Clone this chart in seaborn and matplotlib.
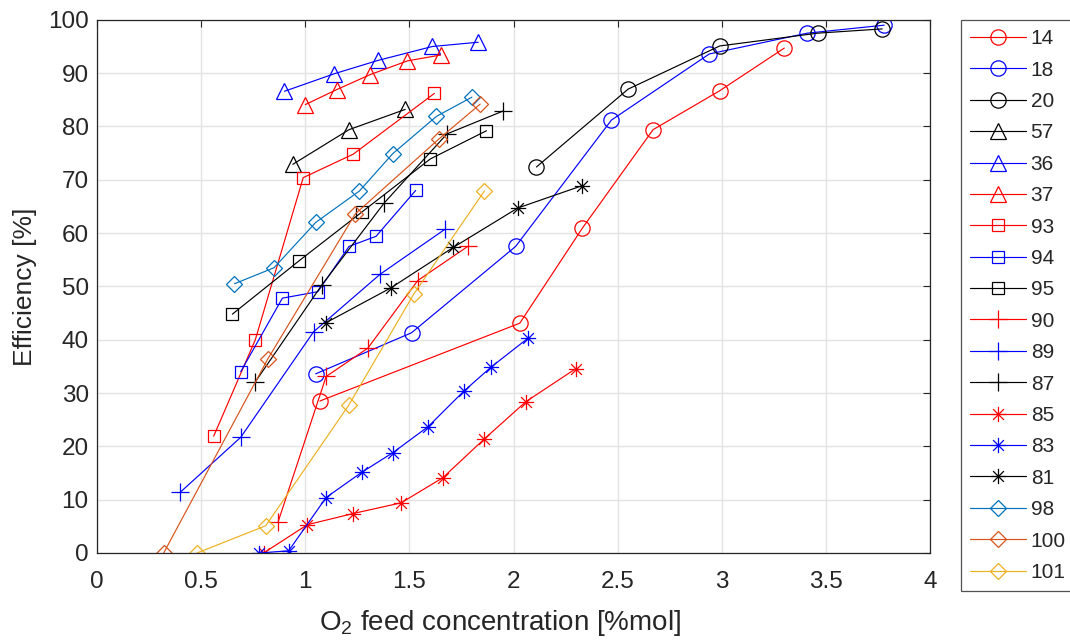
import numpy as np
import pandas as pd
import matplotlib
matplotlib.use('Agg')
import matplotlib.pyplot as plt
from matplotlib.path import Path
import seaborn as sns

# Data (x: O2 feed %mol, y: efficiency %)
x14 = [1.07, 2.03, 2.33, 2.67, 2.99, 3.30]
y14 = [28.5, 43.1, 60.9, 79.4, 86.7, 94.7]
x18 = [1.05, 1.51, 2.01, 2.47, 2.94, 3.41, 3.78]
y18 = [33.6, 41.3, 57.5, 81.2, 93.6, 97.5, 99.0]
x20 = [2.11, 2.55, 2.99, 3.46, 3.77]
y20 = [72.4, 87.0, 95.1, 97.5, 98.3]
x57 = [0.94, 1.21, 1.48]
y57 = [72.9, 79.4, 83.2]
x36 = [0.90, 1.14, 1.35, 1.61, 1.83]
y36 = [86.6, 89.9, 92.4, 95.0, 95.8]
x37 = [1.00, 1.15, 1.31, 1.49, 1.65]
y37 = [84.1, 86.9, 89.7, 92.3, 93.4]
x93 = [0.56, 0.76, 0.99, 1.23, 1.62]
y93 = [21.9, 40.0, 70.4, 74.8, 86.2]
x94 = [0.69, 0.89, 1.06, 1.21, 1.34, 1.53]
y94 = [34.0, 47.8, 49.0, 57.5, 59.4, 68.0]
x95 = [0.65, 0.97, 1.27, 1.60, 1.87]
y95 = [44.8, 54.8, 63.9, 73.9, 79.2]
x90 = [0.87, 1.10, 1.30, 1.54, 1.78]
y90 = [5.9, 33.1, 38.4, 51.1, 57.5]
x89 = [0.40, 0.69, 1.04, 1.36, 1.67]
y89 = [11.4, 21.7, 41.5, 52.3, 60.7]
x87 = [0.76, 1.08, 1.38, 1.68, 1.95]
y87 = [32.1, 50.3, 65.7, 78.6, 82.9]
x85 = [0.80, 1.01, 1.23, 1.46, 1.66, 1.86, 2.06, 2.30]
y85 = [0.0, 5.3, 7.4, 9.4, 14.1, 21.4, 28.4, 34.6]
x83 = [0.78, 0.92, 1.10, 1.27, 1.42, 1.59, 1.76, 1.89, 2.07]
y83 = [0.0, 0.4, 10.4, 15.1, 18.8, 23.7, 30.3, 34.8, 40.3]
x81 = [1.10, 1.41, 1.71, 2.02, 2.33]
y81 = [43.2, 49.7, 57.3, 64.7, 68.9]
x98 = [0.66, 0.85, 1.05, 1.26, 1.42, 1.63, 1.80]
y98 = [50.5, 53.5, 62.0, 67.9, 74.9, 81.9, 85.5]
x100 = [0.32, 0.82, 1.24, 1.64, 1.84]
y100 = [0.0, 36.4, 63.6, 77.6, 84.2]
x101 = [0.48, 0.81, 1.21, 1.52, 1.86]
y101 = [0.0, 5.1, 27.8, 48.5, 67.9]

labels = ['14', '18', '20', '57', '36', '37', '93', '94', '95',
          '90', '89', '87', '85', '83', '81', '98', '100', '101']
xs = [x14, x18, x20, x57, x36, x37, x93, x94, x95,
      x90, x89, x87, x85, x83, x81, x98, x100, x101]
ys = [y14, y18, y20, y57, y36, y37, y93, y94, y95,
      y90, y89, y87, y85, y83, y81, y98, y100, y101]

# MATLAB style asterisk: + and x overlaid
d = np.sqrt(0.5)
asterisk = Path(
    [(-1, 0), (1, 0), (0, -1), (0, 1), (-d, -d), (d, d), (-d, d), (d, -d)],
    [Path.MOVETO, Path.LINETO] * 4)

styles = {
    '14': ('red', 'o', 11), '18': ('blue', 'o', 11), '20': ('black', 'o', 11),
    '57': ('black', '^', 12), '36': ('blue', '^', 12), '37': ('red', '^', 12),
    '93': ('red', 's', 8.5), '94': ('blue', 's', 8.5), '95': ('black', 's', 8.5),
    '90': ('red', '+', 13), '89': ('blue', '+', 13), '87': ('black', '+', 13),
    '85': ('red', asterisk, 11), '83': ('blue', asterisk, 11), '81': ('black', asterisk, 11),
    '98': ('#0072BD', 'D', 8.5), '100': ('#D95319', 'D', 8.5), '101': ('#EDB120', 'D', 8.5),
}

sns.set_style('whitegrid')
plt.rcParams['font.family'] = ['Liberation Sans', 'DejaVu Sans']
plt.rcParams['mathtext.fontset'] = 'custom'
plt.rcParams['mathtext.rm'] = 'Liberation Sans'

fig = plt.figure(figsize=(10.7, 6.4), dpi=100)
ax = fig.add_axes([0.0907, 0.136, 0.7785, 0.833])

for lab, x, y in zip(labels, xs, ys):
    color, marker, ms = styles[lab]
    df = pd.DataFrame({'x': x, 'y': y})
    sns.lineplot(data=df, x='x', y='y', ax=ax, sort=False, estimator=None,
                 color=color, marker=marker, markersize=ms, mfc='none',
                 mec=color, mew=0.9, linewidth=0.85, label=lab)

ax.set_xlim(0, 4)
ax.set_ylim(0, 100)
ax.set_xticks(np.arange(0, 4.01, 0.5))
ax.set_xticklabels(['0', '0.5', '1', '1.5', '2', '2.5', '3', '3.5', '4'])
ax.set_yticks(np.arange(0, 101, 10))
ax.tick_params(direction='in', length=5, width=0.8, top=True, right=True,
               labelsize=17.5, colors='#262626')
ax.tick_params(axis='x', pad=13)
ax.tick_params(axis='y', pad=6)
ax.grid(True, color='#e3e3e3', linewidth=1.0)
for sp in ax.spines.values():
    sp.set_color('#262626')
    sp.set_linewidth(0.9)

ax.set_xlabel('O$_\\mathrm{2}$ feed concentration [%mol]', fontsize=20, color='#262626')
ax.set_ylabel('Efficiency [%]', fontsize=19, color='#262626', labelpad=8)
ax.xaxis.set_label_coords(0.484, -0.103)

leg = ax.legend(loc='upper left', bbox_to_anchor=(0.898, 0.969), bbox_transform=fig.transFigure,
                fontsize=15, frameon=True, fancybox=False, edgecolor='#262626',
                handlelength=2.7, labelspacing=0.595, borderpad=0.45, handletextpad=0.2,
                borderaxespad=0)
leg.get_frame().set_linewidth(0.9)

fig.savefig('out.png', dpi=100)
